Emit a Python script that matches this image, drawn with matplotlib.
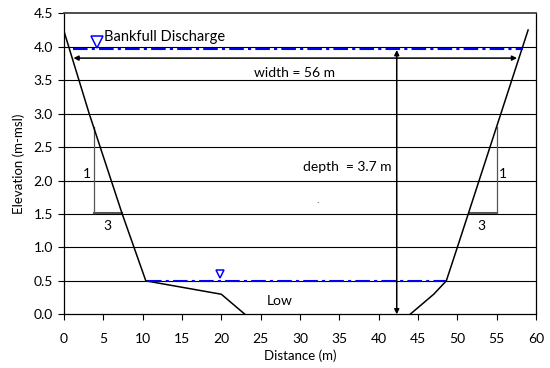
import matplotlib.pyplot as plt

# channel cross-section profile
left_x = [0, 3.2, 7.4, 10.4, 20, 23]
left_y = [4.23, 3.0, 1.5, 0.5, 0.3, 0.0]
right_x = [44, 47, 48.6, 50, 59]
right_y = [0.0, 0.3, 0.5, 1.0, 4.25]

# water levels
bankfull_x = [1.1, 58.3]
bankfull_y = [3.97, 3.97]
low_x = [10.5, 48.5]
low_y = [0.5, 0.5]

x_ticks = [0, 5, 10, 15, 20, 25, 30, 35, 40, 45, 50, 55, 60]
y_ticks = [0.0, 0.5, 1.0, 1.5, 2.0, 2.5, 3.0, 3.5, 4.0, 4.5]

plt.rcParams['font.family'] = ['Lato', 'DejaVu Sans']
fs = 10

fig = plt.figure(figsize=(5.5, 3.68), dpi=100)
ax = fig.add_axes([0.1164, 0.1459, 0.8581, 0.818])

for yv in y_ticks[1:-1]:
    ax.axhline(yv, color='black', lw=0.8, zorder=1)

ax.plot(left_x, left_y, color='black', lw=1.1, zorder=3)
ax.plot(right_x, right_y, color='black', lw=1.1, zorder=3)

ax.plot(bankfull_x, bankfull_y, color='blue', lw=1.5, dashes=[7, 2, 1.5, 2], zorder=4)
ax.plot(low_x, low_y, color='blue', lw=1.5, dashes=[7, 2, 1.5, 2], zorder=4)
ax.plot([4.15], [4.07], marker='v', ms=8, mfc='none', mec='blue', mew=1.1, zorder=5)
ax.plot([19.8], [0.6], marker='v', ms=6, mfc='none', mec='blue', mew=1.1, zorder=5)
ax.text(5.1, 4.15, 'Bankfull Discharge', fontsize=fs + 0.5, va='center', ha='left')
ax.text(25.8, 0.2, 'Low', fontsize=fs, va='center', ha='left')

# width and depth arrows
ax.annotate('', xy=(1.2, 3.83), xytext=(57.6, 3.83),
            arrowprops=dict(arrowstyle='<|-|>', color='black', lw=1.1,
                            mutation_scale=7, shrinkA=0, shrinkB=0))
ax.text(29.3, 3.61, 'width = 56 m', fontsize=fs, ha='center', va='center')
ax.annotate('', xy=(42.3, 3.95), xytext=(42.3, 0.0),
            arrowprops=dict(arrowstyle='<|-|>', color='black', lw=1.1,
                            mutation_scale=7, shrinkA=0, shrinkB=0))
ax.text(41.6, 2.2, 'depth  = 3.7 m', fontsize=fs, ha='right', va='center')

# slope triangles
ax.plot([3.85, 3.85], [2.8, 1.52], color='#555555', lw=0.9, zorder=2)
ax.plot([3.85, 7.4], [1.52, 1.52], color='#555555', lw=1.5, zorder=2)
ax.text(2.9, 2.1, '1', fontsize=fs, ha='center', va='center')
ax.text(5.5, 1.32, '3', fontsize=fs, ha='center', va='center')
ax.plot([55.05, 55.05], [2.8, 1.52], color='#555555', lw=0.9, zorder=2)
ax.plot([51.6, 55.05], [1.52, 1.52], color='#555555', lw=1.5, zorder=2)
ax.text(55.8, 2.1, '1', fontsize=fs, ha='center', va='center')
ax.text(53.1, 1.32, '3', fontsize=fs, ha='center', va='center')
ax.text(32.3, 1.63, '`', fontsize=5, ha='center', va='center')

ax.set_xlim(0, 60)
ax.set_ylim(0, 4.5)
ax.set_xticks(x_ticks)
ax.set_yticks(y_ticks)
ax.set_yticklabels([f'{v:.1f}' for v in y_ticks])
ax.tick_params(labelsize=fs, length=4, width=0.8, color='black', pad=4)
ax.tick_params(axis='x', pad=9.5)
for s in ax.spines.values():
    s.set_color('black')
    s.set_linewidth(0.9)
ax.spines['top'].set_color('#404040')
ax.spines['top'].set_linewidth(1.3)
ax.set_xlabel('Distance (m)', fontsize=fs - 0.5, labelpad=3)
ax.set_ylabel('Elevation (m-msl)', fontsize=fs - 0.5, labelpad=6)

fig.savefig('out.png', dpi=100)
